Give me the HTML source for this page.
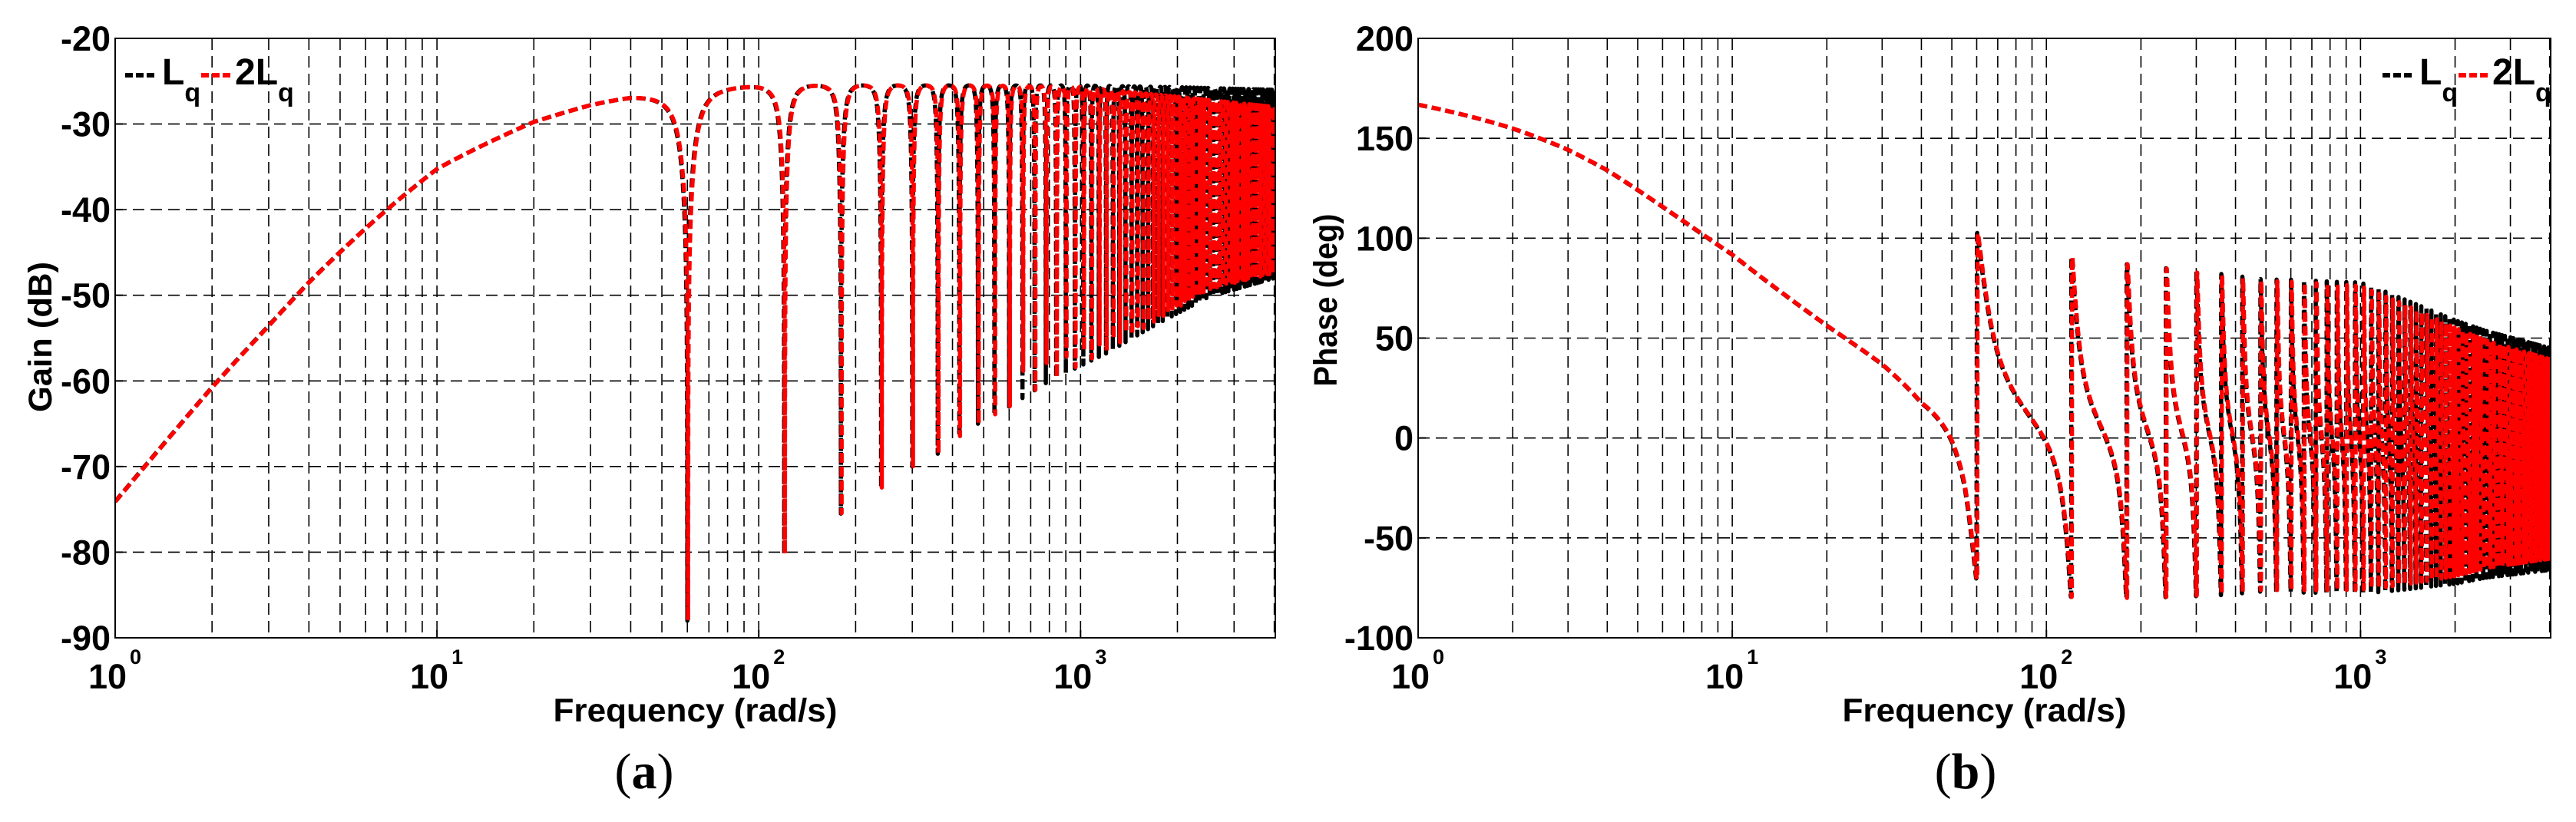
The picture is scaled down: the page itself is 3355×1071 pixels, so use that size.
<!DOCTYPE html>
<html><head><meta charset="utf-8"><style>
html,body{margin:0;padding:0;background:#fff;}
svg{display:block;}
text{font-family:"Liberation Sans",Arial,sans-serif;font-weight:bold;fill:#000;}
</style></head><body>
<svg id="fig" xmlns="http://www.w3.org/2000/svg" width="3355" height="1071" viewBox="0 0 3355 1071"></svg>
<script>
// ---------- DATA ----------
const seriesNames = ["Lq", "2Lq"];
const notchPeriod = [60, 60.3];              // rad/s spacing of notches (Lq, 2Lq)
const gainKnotFreq = [1, 2, 3, 4, 10, 20, 30, 40, 60, 100, 200, 500, 1000, 2000, 4000];
const gainTopLq  = [-57.9, -50.3, -46.2, -43.1, -34.0, -29.6, -27.8, -26.8, -26.2, -25.6, -25.5, -25.5, -25.5, -25.7, -26.0];
const gainTop2Lq = [-57.9, -50.3, -46.2, -43.1, -34.0, -29.6, -27.8, -26.8, -26.2, -25.6, -25.5, -25.5, -25.7, -26.8, -28.0];
const notchFreq = [60, 120, 180, 240, 300, 360, 420, 480, 600, 800, 1200, 1700, 2500, 4000];
const notchDepthLq  = [-88, -80.2, -75.5, -72.5, -70, -68.5, -66.5, -65, -63, -60, -56.8, -53.5, -50.2, -48.0];
const notchDepth2Lq = [-88, -80.2, -75.5, -72.5, -70, -68.5, -66.5, -65, -63, -60, -56.5, -53.0, -49.3, -47.4];
const phaseKnotFreq = [1, 2, 3, 4, 10, 20, 30, 40, 50, 55, 60, 70, 80, 100, 120, 180, 300, 600, 1000, 2000, 4000];
const phaseOffset   = [86, 82.5, 79.7, 76.5, 61.7, 45.3, 36.8, 28.3, 28, 26, 16, 12, 10, 8, 5.5, 3.5, 2, 1, 0, -7, -10.5];
const swingKnotFreq = [1, 200, 500, 1000, 2000, 4000];
const phaseSwingLq  = [1, 1, 1.0, 1.07, 1.01, 0.95];
const phaseSwing2Lq = [1, 1, 0.99, 1.05, 0.99, 0.93];
const gainTicks  = [-20, -30, -40, -50, -60, -70, -80, -90];
const phaseTicks = [200, 150, 100, 50, 0, -50, -100];
const decadeExps = [0, 1, 2, 3];

// ---------- LAYOUT ----------
const NS = "http://www.w3.org/2000/svg";
const svg = document.getElementById("fig");
const FMAX = 4030, LMAX = Math.log10(FMAX);
const panels = [
  {key:"gain", x0:150, x1:1661, y0:50, y1:831, vmax:-20, vmin:-90, ticks:gainTicks, ylabel:"Gain  (dB)", ylx:52, yly:439, cap:"(a)", capx:839, legX:163},
  {key:"phase", x0:1847, x1:3322, y0:50, y1:831, vmax:200, vmin:-100, ticks:phaseTicks, ylabel:"Phase  (deg)", ylx:1726, yly:391, cap:"(b)", capx:2560, legX:3103}
];
function el(tag, attrs, parent){const e=document.createElementNS(NS,tag);for(const k in attrs)e.setAttribute(k,attrs[k]);(parent||svg).appendChild(e);return e;}
function interp(fa, va, f){
  const lf=Math.log10(f);
  if(f<=fa[0])return va[0];
  if(f>=fa[fa.length-1])return va[va.length-1];
  for(let i=1;i<fa.length;i++){if(f<=fa[i]){const a=Math.log10(fa[i-1]),b=Math.log10(fa[i]);const t=(lf-a)/(b-a);return va[i-1]+t*(va[i]-va[i-1]);}}
}
const P=0.5;
function response(f, s){
  const top = interp(gainKnotFreq, s===0?gainTopLq:gainTop2Lq, f);
  const topRef = interp(gainKnotFreq, s===0?gainTopLq:gainTop2Lq, Math.max(f,60));
  const depth = interp(notchFreq, s===0?notchDepthLq:notchDepth2Lq, f);
  const d = Math.pow(10,(depth-topRef)/20)*(1-P)/(1+P);
  const r = (1-d)/(1+d);
  const th = 2*Math.PI*f/notchPeriod[s];
  const c=Math.cos(th), sn=Math.sin(th);
  const nr=1-r*c, ni=r*sn, dr=1-P*c, di=P*sn;
  const mag = Math.sqrt(nr*nr+ni*ni)/Math.sqrt(dr*dr+di*di)/((1+r)/(1+P));
  const gain = top + 20*Math.log10(Math.max(mag,1e-9));
  const arg = (Math.atan2(ni,nr)-Math.atan2(di,dr))*180/Math.PI;
  const sw = interp(swingKnotFreq, s===0?phaseSwingLq:phaseSwing2Lq, f);
  const phase = interp(phaseKnotFreq, phaseOffset, f) + sw*arg;
  return [gain, phase];
}
// frequency sampling
const freqs=[];
for(let l=0;l<Math.log10(30);l+=0.005)freqs.push(Math.pow(10,l));
for(let f=30;f<600;f+=0.1)freqs.push(f);
for(let f=600;f<=FMAX;f+=0.2)freqs.push(f);

panels.forEach((p,pi)=>{
  const xs=f=>p.x0+(Math.log10(f)/LMAX)*(p.x1-p.x0);
  const ys=v=>p.y0+(p.vmax-v)/(p.vmax-p.vmin)*(p.y1-p.y0);
  const g=el("g",{});
  
  
  const clipId="clip"+pi;
  const cp=el("clipPath",{id:clipId},g);el("rect",{x:p.x0,y:p.y0,width:p.x1-p.x0,height:p.y1-p.y0},cp);
  // grid
  const grid=el("g",{stroke:"#000","stroke-width":1.6,"stroke-dasharray":"15,8",fill:"none"},g);
  
  
  decadeExps.forEach(e=>{for(let m=1;m<10;m++){const f=m*Math.pow(10,e);if(f<=1||f>FMAX)continue;const x=xs(f);
    const ln=el("line",{x1:x,y1:p.y0,x2:x,y2:p.y1},grid);
    
    }});
  p.ticks.forEach(v=>{if(v===p.vmax||v===p.vmin)return;const y=ys(v);
    const ln=el("line",{x1:p.x0,y1:y,x2:p.x1,y2:y},grid);
    
    });
  // series
  const cols=["#000","#ff0000"];
  [0,1].forEach(s=>{
    let d="";
    freqs.forEach((f,i)=>{const v=response(f,s)[pi];d+=(i?"L":"M")+xs(f).toFixed(2)+" "+ys(v).toFixed(2);});
    const path=el("path",{d:d,fill:"none",stroke:cols[s],"stroke-width":5.5,"stroke-dasharray":"12,6","clip-path":"url(#"+clipId+")","stroke-linejoin":"round"},g);
    
    
  });
  // axes box
  const box=el("rect",{x:p.x0,y:p.y0,width:p.x1-p.x0,height:p.y1-p.y0,fill:"none",stroke:"#000","stroke-width":2},g);
  
  
  // y tick labels
  p.ticks.forEach(v=>{const t=el("text",{x:p.x0-6,y:ys(v)+16,"text-anchor":"end","font-size":45},g);t.textContent=v;
    
    
    const tk=el("line",{x1:p.x0,y1:ys(v),x2:p.x0+10,y2:ys(v),stroke:"#000","stroke-width":2},g);
    
    });
  // x tick labels
  decadeExps.forEach(e=>{const x=xs(Math.pow(10,e));
    const t=el("text",{x:x+15,y:897,"text-anchor":"end","font-size":45},g);t.textContent="10";
    
    
    const sp=el("text",{x:x+19,y:865,"font-size":27},g);sp.textContent=String(e);
    
    
    const tk=el("line",{x1:x,y1:p.y1,x2:x,y2:p.y1-10,stroke:"#000","stroke-width":2},g);
    
    });
  // axis titles
  const cx=(p.x0+p.x1)/2;
  const xt=el("text",{x:cx,y:940,"text-anchor":"middle","font-size":43,textLength:370,lengthAdjust:"spacingAndGlyphs"},g);
  xt.textContent="Frequency  (rad/s)";
  
  
  const yt=el("text",{x:0,y:0,"text-anchor":"middle","font-size":43,transform:"translate("+(p.ylx+15)+","+p.yly+") rotate(-90)",textLength:(pi?225:196),lengthAdjust:"spacingAndGlyphs"},g);
  yt.textContent=p.ylabel;
  
  
  const cap=el("text",{x:p.capx,y:1027,"text-anchor":"middle","font-size":66,style:"font-family:'Liberation Serif',serif;font-weight:normal"},g);
  cap.innerHTML='(<tspan font-weight="bold">'+(pi?'b':'a')+'</tspan>)';
  
  
  // legend
  const lg=el("g",{},g);
  
  
  const lx=p.legX;
  const l1=el("line",{x1:lx,y1:98,x2:lx+40,y2:98,stroke:"#000","stroke-width":6,"stroke-dasharray":"10,4"},lg);
  
  
  const t1=el("text",{x:lx+48,y:110,"font-size":48},lg);
  t1.innerHTML='L<tspan dy="22" font-size="34">q</tspan>';
  
  
  const l2=el("line",{x1:lx+99,y1:98,x2:lx+139,y2:98,stroke:"#ff0000","stroke-width":6,"stroke-dasharray":"10,4"},lg);
  
  
  const t2=el("text",{x:lx+143,y:110,"font-size":48},lg);
  t2.innerHTML='2L<tspan dy="22" font-size="34">q</tspan>';
  
  
});
</script>
</body></html>
